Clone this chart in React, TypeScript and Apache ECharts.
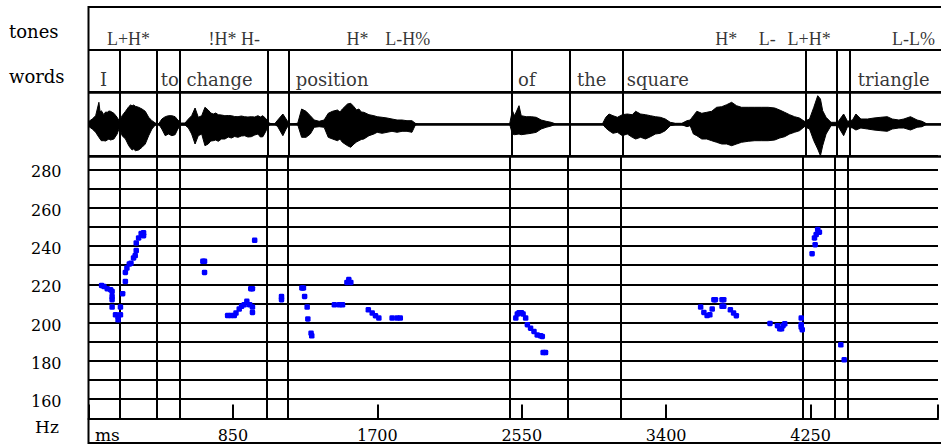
import React, { useEffect, useRef } from 'react';
import * as echarts from 'echarts';

// ---- data ----
const timeMax = 5000; // ms
const timeStep = 850; // ms between time ticks
const pitchMin = 150;
const pitchMax = 287;
const pitchStep = 10;

const toneLabels = ['L+H*', '!H* H-', 'H*', 'L-H%', 'H*', 'L-', 'L+H*', 'L-L%'];
const toneTimes = [108, 703, 1513, 1740, 3675, 3931, 4100, 4712];

const wordLabels = ['I', 'to', 'change', 'position', 'of', 'the', 'square', 'triangle'];
const wordTimes = [67, 423, 574, 1215, 2519, 2865, 3156, 4512];

const wordBoundaries = [182, 401, 538, 1052, 1175, 2482, 2822, 3133, 4205, 4391, 4467];

// [ms, Hz]
const pitchPoints = [
  [77, 219.4], [91, 218.9], [110, 217.7], [130, 217.2], [139, 216.3], [139, 213.7], [139, 212.0], [139, 208.1],
  [159, 204.1], [174, 203.2], [174, 201.5], [188, 204.1], [188, 208.1], [201, 215.1], [217, 221.5], [217, 226.2],
  [226, 228.5], [240, 230.6], [250, 231.0], [265, 233.8], [275, 235.0], [281, 237.6], [281, 241.6], [295, 244.2],
  [310, 246.5], [324, 246.9], [324, 245.4],
  [673, 232.0], [683, 232.0], [683, 226.2], [978, 243.0],
  [819, 203.7], [838, 203.7], [858, 203.7], [868, 205.0], [887, 207.1], [901, 208.5], [916, 209.3], [932, 211.1],
  [949, 209.3], [965, 208.1], [965, 205.3], [955, 217.7], [965, 217.7],
  [1136, 213.7], [1136, 212.0],
  [1256, 218.1], [1265, 218.1], [1272, 213.7], [1287, 208.1], [1291, 201.9], [1310, 194.5], [1314, 193.1],
  [1447, 209.3], [1476, 209.3], [1495, 209.3], [1521, 221.0], [1532, 222.5], [1544, 221.0],
  [1647, 206.7], [1670, 205.0], [1689, 203.6], [1709, 202.4], [1787, 202.4], [1816, 202.4], [1835, 202.4],
  [2515, 202.4], [2524, 204.5], [2534, 205.2], [2548, 205.2], [2558, 204.5], [2573, 202.4], [2583, 198.9],
  [2602, 197.1], [2622, 195.4], [2641, 193.6], [2661, 193.1], [2671, 192.8], [2676, 184.4], [2690, 184.4],
  [3603, 208.1], [3622, 205.3], [3641, 203.7], [3657, 204.1], [3671, 207.1], [3681, 212.0], [3690, 212.0],
  [3729, 212.0], [3739, 212.0], [3729, 208.5], [3739, 208.5], [3778, 206.7], [3797, 205.0], [3813, 203.6],
  [4011, 199.6], [4055, 198.4], [4069, 196.8], [4079, 196.8], [4088, 198.4], [4098, 199.4],
  [4195, 202.4], [4195, 199.0], [4195, 197.7], [4201, 196.3],
  [4259, 236.0], [4277, 240.7], [4273, 244.2], [4283, 246.0], [4292, 248.6], [4302, 247.2],
  [4428, 188.4], [4448, 180.6],
];

// waveform envelope: [ms, upper amplitude, lower amplitude]
const waveEnvelope = [
  [0, 0, 0], [3, 2.7, 2.7], [22, 5, 5], [42, 8.3, 8.3], [61, 21.7, 13.3], [68, 12, 15], [75, 13.3, 16.7], [90, 9.3, 16.7],
  [100, 12, 17], [110, 11.7, 16], [120, 13, 15], [129, 12.7, 16], [149, 10.7, 15], [168, 6.7, 10], [182, 2.7, 3.3], [197, 8.3, 11.7],
  [217, 12.7, 15], [236, 17.3, 21.7], [246, 19, 24], [256, 18.3, 26], [265, 19, 25], [275, 17.7, 26.7], [294, 16.7, 26], [314, 15, 23.3],
  [333, 12.7, 20], [353, 6.7, 11.7], [372, 3.3, 5], [392, 1, 1], [411, 0, 0], [430, 5, 5], [450, 7.3, 11.7],
  [469, 8.3, 10], [489, 8.3, 11.7], [508, 7.3, 10.7], [524, 4, 5], [543, 1, 1], [566, 1, 1], [586, 5, 4],
  [605, 8.3, 10], [625, 16, 20], [644, 6.7, 11.7], [664, 8.3, 10], [683, 16.7, 21.7], [702, 14, 20],
  [717, 11, 17], [732, 10, 16.7], [746, 11, 16], [761, 9.3, 17.3], [780, 9, 15], [800, 8.3, 15], [820, 8.5, 13], [838, 8.3, 14], [857, 7.5, 12.5], [877, 7.3, 13.3], [896, 8, 12], [916, 7.3, 11.7],
  [935, 7, 13], [955, 7.3, 12.7], [975, 7, 11], [994, 8.3, 10], [1008, 7, 13], [1023, 8.3, 12.7], [1042, 5, 6.7], [1062, 0.7, 0.7], [1091, 0, 0],
  [1110, 4, 2.7], [1140, 10, 11.7], [1159, 5, 5], [1178, 0, 0], [1227, 0.7, 0.7], [1250, 15, 13.3],
  [1276, 12.7, 13.3], [1301, 8.3, 10], [1324, 4, 3.3], [1353, 2.7, 2.7], [1382, 4, 3.3], [1406, 10.7, 13.3],
  [1431, 12.7, 15], [1460, 14, 16.7], [1475, 12, 15], [1489, 15, 18.3], [1519, 20, 21.7], [1538, 20.7, 23.3], [1557, 17.3, 20],
  [1572, 14, 18], [1586, 15, 16.7], [1600, 12, 15.5], [1615, 11.7, 15], [1645, 9.3, 11.7], [1674, 8.3, 10], [1693, 7.3, 8.3], [1722, 6.7, 9.3],
  [1751, 6, 8.3], [1780, 5, 7.3], [1810, 4, 8.3], [1839, 4, 7.3], [1868, 3.3, 7.3], [1897, 3.3, 8.3],
  [1917, 0.7, 1], [1936, 0, 0], [2470, 0, 0], [2486, 13.3, 10], [2499, 8.3, 10.7], [2525, 18.3, 10],
  [2538, 8.3, 10.7], [2567, 7.3, 10], [2597, 7.3, 9.3], [2626, 6.7, 8.3], [2655, 4, 5], [2684, 2.7, 3.3],
  [2713, 1.7, 2], [2742, 0, 0], [3014, 0, 0], [3034, 6.7, 4], [3053, 10, 6.7], [3076, 8.3, 9.3],
  [3102, 6.7, 8.3], [3131, 9.3, 11.7], [3160, 10, 10], [3189, 9.3, 13.3], [3209, 12.7, 15], [3238, 10, 13.3],
  [3267, 9.3, 15], [3296, 8.3, 12.7], [3325, 7.3, 10], [3354, 6.7, 9.3], [3383, 5, 6.7], [3412, 1.7, 1.7],
  [3442, 0.7, 0.7], [3480, 0.7, 0.7], [3510, 3.3, 2.7], [3529, 4, 1.7], [3548, 8.3, 10], [3568, 12.7, 11.7],
  [3597, 10.7, 15], [3626, 11.7, 15], [3655, 12.7, 16.7], [3684, 16.7, 18.3], [3714, 17.3, 20],
  [3743, 19.3, 20], [3772, 21.7, 21.7], [3801, 18.3, 20], [3830, 16.7, 18.3], [3869, 16.7, 17.3],
  [3908, 16.7, 16.7], [3947, 16.7, 16.7], [3986, 16.7, 16.7], [4025, 16, 16], [4054, 14, 14],
  [4083, 11.7, 12.7], [4112, 9.3, 10], [4141, 7.3, 8.3], [4170, 6, 6.7], [4199, 2.7, 2.7], [4229, 5, 5],
  [4254, 16.7, 16.7], [4277, 28.3, 25], [4293, 25, 31.7], [4306, 13.3, 21.7], [4326, 6.7, 10],
  [4355, 1.7, 1.7], [4394, 1.7, 1.7], [4429, 10, 11.7], [4452, 2.7, 2.7], [4481, 4, 4], [4501, 10, 6],
  [4530, 5, 4], [4569, 5, 5], [4607, 6, 6], [4646, 6.7, 6.7], [4685, 7.3, 7.3], [4714, 5, 5], [4753, 4, 4],
  [4782, 5, 4], [4821, 7.3, 6], [4860, 4, 3.3], [4889, 2.7, 2.7], [4918, 0, 0], [5000, 0, 0],
];
const waveRange = 32;

// ---- layout / style ----
const LEFT = 88.5;
const WIDTH = 858;
const SERIF = '"DejaVu Serif", serif';
const TIMES = '"Liberation Serif", "Times New Roman", serif';
const BLACK = '#000';

function boundaryMarkLine() {
  return {
    silent: true,
    symbol: ['none', 'none'],
    label: { show: false },
    lineStyle: { color: BLACK, width: 2, type: 'solid', opacity: 1 },
    emphasis: { disabled: true },
    data: wordBoundaries.map((b) => ({ xAxis: b })),
  };
}

export default function App() {
  const ref = useRef<HTMLDivElement>(null);
  useEffect(() => {
    if (!ref.current) return;
    const chart = echarts.init(ref.current, undefined, { renderer: 'svg' });
    const hiddenX = (i: number) => ({ type: 'value', gridIndex: i, min: 0, max: timeMax, show: false });
    chart.setOption({
      animation: false,
      backgroundColor: '#fff',
      grid: [
        { left: LEFT, top: 7, width: WIDTH, height: 43 },
        { left: LEFT, top: 50, width: WIDTH, height: 42 },
        { left: LEFT, top: 92, width: WIDTH, height: 64 },
        { left: LEFT, top: 156, width: WIDTH, height: 262.4 },
      ],
      xAxis: [
        hiddenX(0),
        hiddenX(1),
        hiddenX(2),
        {
          type: 'value',
          gridIndex: 3,
          min: 0,
          max: timeMax,
          interval: timeStep,
          axisLine: { show: true, onZero: false, lineStyle: { color: BLACK, width: 2 } },
          axisTick: { show: true, inside: true, length: 14, lineStyle: { color: BLACK, width: 2 } },
          axisLabel: {
            show: true,
            margin: 9,
            color: BLACK,
            fontFamily: SERIF,
            fontSize: 16,
            formatter: (v: number) => (v > 0 && v % timeStep === 0 ? String(v) : ''),
          },
          splitLine: { show: false },
        },
      ],
      yAxis: [
        {
          type: 'category',
          gridIndex: 0,
          data: ['tones'],
          axisLine: { show: false },
          axisTick: { show: false },
          axisLabel: { align: 'left', verticalAlign: 'top', lineHeight: 5, margin: 79.5, color: BLACK, fontFamily: SERIF, fontSize: 18 },
          splitLine: { show: true, lineStyle: { color: BLACK, width: 2 } },
        },
        {
          type: 'category',
          gridIndex: 1,
          data: ['words'],
          axisLine: { show: false },
          axisTick: { show: false },
          axisLabel: { align: 'left', verticalAlign: 'top', lineHeight: 10, margin: 79.5, color: BLACK, fontFamily: SERIF, fontSize: 18 },
          splitLine: { show: true, lineStyle: { color: BLACK, width: 2 } },
        },
        {
          type: 'value',
          gridIndex: 2,
          min: -waveRange,
          max: waveRange,
          interval: waveRange,
          axisLine: { show: false },
          axisTick: { show: false },
          axisLabel: { show: false },
          splitLine: { show: true, lineStyle: { color: BLACK, width: 2.6 } },
        },
        {
          type: 'value',
          gridIndex: 3,
          min: pitchMin,
          max: pitchMax,
          interval: pitchStep,
          axisLine: { show: false },
          axisTick: { show: false },
          axisLabel: {
            margin: 27,
            color: BLACK,
            fontFamily: SERIF,
            fontSize: 16,
            verticalAlign: 'top',
            lineHeight: 5,
            formatter: (v: number) => (v % 20 === 0 && v >= 160 && v <= 280 ? String(v) : ''),
          },
          splitLine: { show: true, lineStyle: { color: BLACK, width: 2 } },
        },
      ],
      series: [
        {
          type: 'scatter',
          xAxisIndex: 0,
          yAxisIndex: 0,
          symbolSize: 0.1,
          itemStyle: { color: 'rgba(0,0,0,0)' },
          silent: true,
          data: toneLabels.map((t, i) => ({ name: t, value: [toneTimes[i], 'tones'] })),
          label: {
            show: true,
            position: 'right',
            distance: 0,
            offset: [0, 10.5],
            formatter: '{b}',
            color: BLACK,
            fontFamily: TIMES,
            fontSize: 18,
          },
        },
        {
          type: 'scatter',
          xAxisIndex: 1,
          yAxisIndex: 1,
          symbolSize: 0.1,
          itemStyle: { color: 'rgba(0,0,0,0)' },
          silent: true,
          data: wordLabels.map((w, i) => ({ name: w, value: [wordTimes[i], 'words'] })),
          label: {
            show: true,
            position: 'right',
            distance: 0,
            offset: [0, 8.8],
            formatter: '{b}',
            color: BLACK,
            fontFamily: SERIF,
            fontSize: 18,
          },
          markLine: boundaryMarkLine(),
        },
        {
          type: 'line',
          xAxisIndex: 2,
          yAxisIndex: 2,
          showSymbol: false,
          silent: true,
          lineStyle: { color: BLACK, width: 1 },
          areaStyle: { color: BLACK, opacity: 1 },
          data: waveEnvelope.map((d) => [d[0], d[1]]),
          markLine: boundaryMarkLine(),
        },
        {
          type: 'line',
          xAxisIndex: 2,
          yAxisIndex: 2,
          showSymbol: false,
          silent: true,
          lineStyle: { color: BLACK, width: 1 },
          areaStyle: { color: BLACK, opacity: 1 },
          data: waveEnvelope.map((d) => [d[0], -d[2]]),
        },
        {
          type: 'scatter',
          xAxisIndex: 3,
          yAxisIndex: 3,
          symbol: 'roundRect',
          symbolSize: 5.5,
          itemStyle: { color: '#0000ff', opacity: 1 },
          silent: true,
          z: 5,
          data: pitchPoints,
          markLine: boundaryMarkLine(),
        },
      ],
      graphic: [
        {
          type: 'rect',
          silent: true,
          z: 100,
          shape: { x: LEFT, y: 7, width: 1000, height: 436 },
          style: { fill: 'none', stroke: BLACK, lineWidth: 2 },
        },
        {
          type: 'text',
          x: 47,
          y: 427,
          style: { text: 'Hz', fill: BLACK, font: '17px ' + SERIF, align: 'center', verticalAlign: 'middle' },
        },
        {
          type: 'text',
          x: 95,
          y: 435,
          style: { text: 'ms', fill: BLACK, font: '17px ' + SERIF, align: 'left', verticalAlign: 'middle' },
        },
      ],
    });
    return () => chart.dispose();
  }, []);
  return (
    <div
      ref={ref}
      style={{ position: 'fixed', left: 0, top: 0, width: 941, height: 445, background: '#fff' }}
    />
  );
}
